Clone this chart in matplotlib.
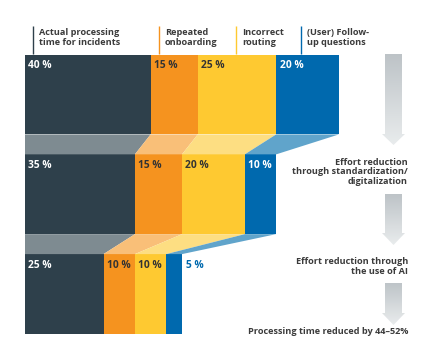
import matplotlib.pyplot as plt
import numpy as np
from matplotlib.patches import Polygon

# --- data ---
categories = ['Actual processing\ntime for incidents', 'Repeated\nonboarding',
              'Incorrect\nrouting', '(User) Follow-\nup questions']
current = [40, 15, 25, 20]
standardized = [35, 15, 20, 10]
with_ai = [25, 10, 10, 5]
rows = [current, standardized, with_ai]
step_notes = ['Effort reduction\nthrough standardization/\ndigitalization',
              'Effort reduction through\nthe use of AI',
              'Processing time reduced by 44\u201352%']

DARK = '#2E404B'
ORANGE = '#F5931F'
YELLOW = '#FEC931'
BLUE = '#0069AE'
COLORS = [DARK, ORANGE, YELLOW, BLUE]
LIGHT = ['#7E8B91', '#F9BF78', '#FDDE82', '#60A4CB']
LABEL_COLORS = ['white', '#333333', '#333333', 'white']
TEXT = '#3B3B3B'

W, H = 434, 360
X0, XS = 25, 3.14        # pixel of 0 %, pixels per %
Y0, YS = 94.5, 99.75     # pixel of first row centre, pixels per row
BAR_H = 0.8
FONT = dict(family='Open Sans', weight='bold')


def px(x, y):
    # pixel (from top-left) -> data coords, for decorations only
    return (x - X0) / XS, (y - Y0) / YS


fig = plt.figure(figsize=(W / 100, H / 100), dpi=100)
ax = fig.add_axes([0, 0, 1, 1])
ax.axis('off')

# stacked bars
for r, vals in enumerate(rows):
    lefts = np.concatenate([[0], np.cumsum(vals)[:-1]])
    ax.barh(r, vals, left=lefts, height=BAR_H, color=COLORS, linewidth=0)
    for i, (l, v) in enumerate(zip(lefts, vals)):
        if v * XS < 22:
            tx, col = l + v + 1.3, COLORS[i]
        else:
            tx, col = l + 1.1, LABEL_COLORS[i]
        ax.text(tx, r - 0.29, f'{v} %', color=col, fontsize=7.4,
                ha='left', va='center', **FONT)

# connectors between rows
for r in range(len(rows) - 1):
    top = np.concatenate([[0], np.cumsum(rows[r])])
    bot = np.concatenate([[0], np.cumsum(rows[r + 1])])
    y1, y2 = r + BAR_H / 2, r + 1 - BAR_H / 2
    for i in range(len(categories)):
        ax.add_patch(Polygon([(top[i], y1), (top[i + 1], y1),
                              (bot[i + 1], y2), (bot[i], y2)],
                             closed=True, fc=LIGHT[i], ec='none'))

# header labels with small markers
line_x = [33, 159, 236, 301]
for lx, cat, c in zip(line_x, categories, COLORS):
    xa, ya = px(lx, 26)
    _, yb = px(lx, 54)
    ax.plot([xa, xa], [ya, yb], color=c, lw=1.0, solid_capstyle='butt')
    tx, ty = px(lx + 6, 37.5)
    ax.text(tx, ty, cat, color=TEXT, fontsize=6.6, ha='left', va='center',
            linespacing=1.12, **FONT)

# gradient arrows on the right
grad = np.linspace(0, 1, 256)[:, None]
cmap = plt.matplotlib.colors.LinearSegmentedColormap.from_list(
    'g', ['#BDC3C7', '#E9ECED'])
arrows = [(54, 134, 145), (194, 233, 245), (283, 313, 325)]
for top, head, tip in arrows:
    pts = [px(385, top), px(402, top), px(402, head), px(405, head),
           px(393.5, tip), px(382, head), px(385, head)]
    poly = Polygon(pts, closed=True, fc='none', ec='none')
    ax.add_patch(poly)
    (l, t), (r_, b) = px(382, top), px(405, tip)
    im = ax.imshow(grad, extent=(l, r_, b, t), cmap=cmap, aspect='auto',
                   origin='upper', zorder=1)
    im.set_clip_path(poly)

note_y = [172, 266.5, 331]
for ny, note in zip(note_y, step_notes):
    tx, ty = px(408, ny)
    ax.text(tx, ty, note, color=TEXT, fontsize=6.6, ha='right', va='center',
            linespacing=1.12, **FONT)

ax.set_xlim(-X0 / XS, (W - X0) / XS)
ax.set_ylim((H - Y0) / YS, -Y0 / YS)

fig.savefig('out.png', dpi=100, facecolor='white')
